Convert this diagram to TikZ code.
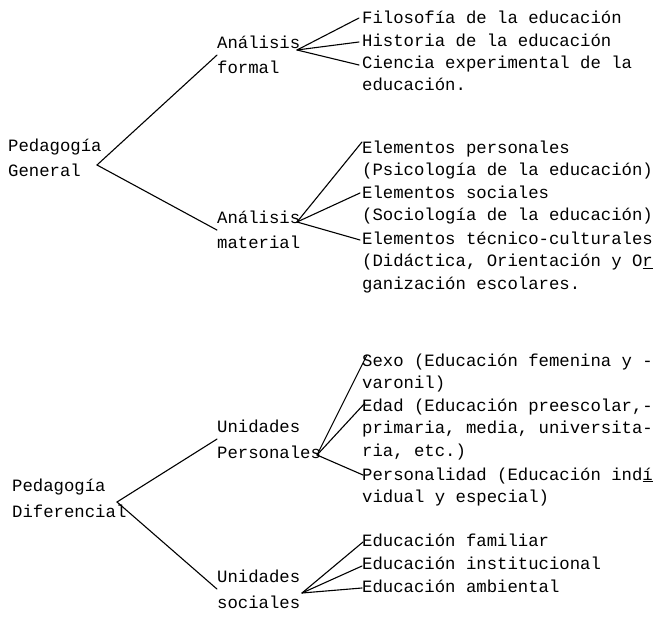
\documentclass[tikz,border=0pt]{standalone}
\usepackage{fontspec}
\newfontfamily\typefont{Liberation Mono}
\usetikzlibrary{positioning}

\tikzset{
  txt/.style={font=\typefont\fontsize{17.3}{25.5}\selectfont, inner sep=0pt, align=left, anchor=base west},
  leaf/.style={font=\typefont\fontsize{17.3}{22.8}\selectfont, inner sep=0pt, align=left, anchor=north west},
  branch/.style={line width=1.1pt, line cap=round},
}

\begin{document}
\begin{tikzpicture}[x=1pt,y=-1pt]

\useasboundingbox (0,0) rectangle (658,620);

% Pedagogia General
\node[txt] (pg) at (8,177) {Pedagogía\\General};
\node[txt] (af) at (217,74) {Análisis\\formal};
\node[txt] (am) at (217,249) {Análisis\\material};

\node[leaf] (fil) at (362,7) {\strut Filosofía de la educación};
\node[leaf] (his) at (362,30) {\strut Historia de la educación};
\node[leaf] (cie) at (362,52) {\strut Ciencia experimental de la\\educación.};

\node[leaf] (ep) at (362,137) {\strut Elementos personales\\(Psicología de la educación)};
\node[leaf] (es) at (362,182) {\strut Elementos sociales\\(Sociología de la educación)};
\node[leaf] (et) at (362,228) {\strut Elementos técnico-culturales\\(Didáctica, Orientación y O\underline{r}\\ganización escolares.};

% Pedagogia Diferencial
\node[txt] (pd) at (12,517) {Pedagogía\\Diferencial};
\node[txt] (up) at (217,458) {Unidades\\Personales};
\node[txt] (us) at (217,608) {Unidades\\sociales};

\node[leaf] (sx) at (362,350) {\strut Sexo (Educación femenina y -\\varonil)};
\node[leaf] (ed) at (362,395) {\strut Edad (Educación preescolar,-\\primaria, media, universita-\\ria, etc.)};
\node[leaf] (pe) at (362,464) {\strut Personalidad (Educación ind\underline{í}\\vidual y especial)};

\node[leaf] (fa) at (362,530) {\strut Educación familiar};
\node[leaf] (ins) at (362,553) {\strut Educación institucional};
\node[leaf] (amb) at (362,576) {\strut Educación ambiental};

% junctions
\coordinate (pg-j) at ([shift={(89,-12)}]pg.base west);
\coordinate (af-j) at ([shift={(80,-24)}]af.base west);
\coordinate (am-j) at ([shift={(80,-27)}]am.base west);
\coordinate (pd-j) at ([shift={(105,-15)}]pd.base west);
\coordinate (up-j) at ([shift={(100,-3)}]up.base west);
\coordinate (us-j) at ([shift={(85,-15)}]us.base west);

\draw[branch] (af.west) -- (pg-j) -- (am.west);
\draw[branch] (up.west) -- (pd-j) -- (us.west);

\foreach \j/\l/\dx/\dy in {af-j/fil/-3/11, af-j/his/-3/12, af-j/cie/-3/13,
    am-j/ep/0/5, am-j/es/-2/11, am-j/et/-2/12,
    up-j/sx/5/5, up-j/ed/3/8, up-j/pe/1/11,
    us-j/fa/1/12, us-j/ins/0/13, us-j/amb/0/12}
  \draw[branch] (\j) -- ([shift={(\dx,\dy)}]\l.north west);

\end{tikzpicture}
\end{document}
